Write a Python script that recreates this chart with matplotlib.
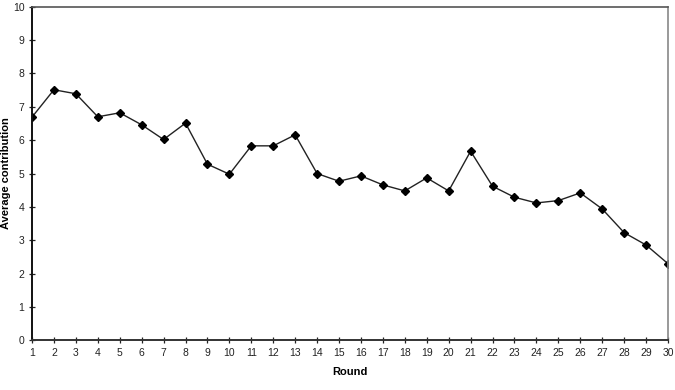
import matplotlib.pyplot as plt

plt.rcParams['font.family'] = ['Liberation Sans', 'DejaVu Sans']

# Average contribution per round
rounds = list(range(1, 31))
contribution = [6.69, 7.51, 7.39, 6.70, 6.82, 6.46, 6.02, 6.51, 5.28, 4.98,
                5.83, 5.83, 6.16, 5.00, 4.77, 4.93, 4.66, 4.48, 4.87, 4.48,
                5.67, 4.62, 4.29, 4.12, 4.19, 4.42, 3.94, 3.23, 2.86, 2.30]
y_ticks = list(range(0, 11))

fig = plt.figure(figsize=(6.75, 3.9), dpi=100)
ax = fig.add_axes([0.0474, 0.127, 0.9422, 0.856])

ax.plot(rounds, contribution, color='#222222', linewidth=1.0,
        marker='D', markersize=3.6, markerfacecolor='black', markeredgecolor='black')

ax.set_xlim(1, 30)
ax.set_ylim(0, 10)
ax.set_xticks(rounds)
ax.set_yticks(y_ticks)
ax.tick_params(axis='both', direction='inout', length=5, width=0.9, labelsize=7.5,
               colors='#222222', pad=3)

ax.set_xlabel('Round', fontsize=8, fontweight='bold')
ax.set_ylabel('Average contribution', fontsize=8, fontweight='bold')
ax.xaxis.set_label_coords(0.5, -0.078)
ax.yaxis.set_label_coords(-0.033, 0.5)

ax.spines['left'].set_linewidth(1.4)
ax.spines['left'].set_color('#111111')
ax.spines['bottom'].set_linewidth(1.4)
ax.spines['bottom'].set_color('#333333')
ax.spines['top'].set_linewidth(1.2)
ax.spines['top'].set_color('#555555')
ax.spines['right'].set_linewidth(1.2)
ax.spines['right'].set_color('#888888')

fig.savefig('out.png', dpi=100)
